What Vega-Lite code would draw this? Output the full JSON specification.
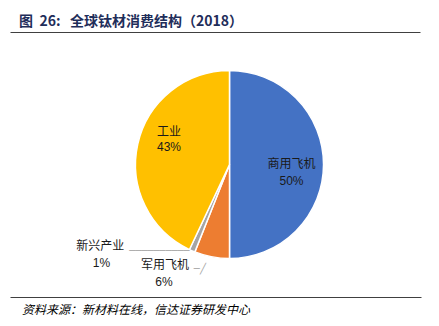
{
  "$schema": "https://vega.github.io/schema/vega-lite/v6.json",
  "padding": {"left": 9, "right": 0, "top": 14, "bottom": 0},
  "title": {
    "text": "\u200b\u00a0\u00a0\u00a0图\u00a0\u00a026:\u00a0\u00a0\u00a0全球钛材消费结构（2018）",
    "anchor": "start",
    "offset": 3,
    "font": "Noto Sans CJK SC",
    "fontSize": 14,
    "fontWeight": "bold",
    "color": "#1f2e5a"
  },
  "data": {
    "values": [
      {"name": "商用飞机", "pct": "50%", "value": 50, "idx": 1, "src": "\u200b\u3000资料来源：新材料在线，信达证券研发中心"},
      {"name": "军用飞机", "pct": "6%", "value": 6, "idx": 2, "src": "\u200b\u3000资料来源：新材料在线，信达证券研发中心"},
      {"name": "新兴产业", "pct": "1%", "value": 1, "idx": 3, "src": "\u200b\u3000资料来源：新材料在线，信达证券研发中心"},
      {"name": "工业", "pct": "43%", "value": 43, "idx": 4, "src": "\u200b\u3000资料来源：新材料在线，信达证券研发中心"}
    ]
  },
  "facet": {
    "column": {
      "field": "src",
      "type": "nominal",
      "header": {
        "title": null,
        "labelOrient": "bottom",
        "labelAnchor": "start",
        "labelAlign": "left",
        "labelPadding": 7,
        "labelFont": "Noto Sans CJK SC",
        "labelFontStyle": "italic",
        "labelFontSize": 12,
        "labelColor": "#000000"
      }
    }
  },
  "spec": {
    "width": 439,
    "height": 265,
    "view": {"stroke": "#404040", "strokeWidth": 1, "strokeDash": [410, 322, 411, 265]},
    "encoding": {
      "theta": {"field": "value", "type": "quantitative", "stack": true},
      "order": {"field": "idx", "type": "quantitative"}
    },
    "layer": [
      {
        "mark": {"type": "arc", "outerRadius": 94, "stroke": "#ffffff", "strokeWidth": 1.5},
        "encoding": {
          "color": {
            "field": "name",
            "type": "nominal",
            "scale": {"domain": ["商用飞机", "军用飞机", "新兴产业", "工业"], "range": ["#4472c4", "#ed7d31", "#a5a5a5", "#ffc000"]},
            "legend": null
          }
        }
      },
      {
        "mark": {"type": "text", "radius": 62, "dy": -1, "font": "Noto Sans CJK SC", "fontSize": 12, "color": "#1a1a1a"},
        "encoding": {"text": {"condition": {"test": "datum.name === '商用飞机'", "field": "name"}, "value": ""}}
      },
      {
        "mark": {"type": "text", "radius": 62, "dy": 16, "font": "Liberation Sans", "fontSize": 12, "color": "#1a1a1a"},
        "encoding": {"text": {"condition": {"test": "datum.name === '商用飞机'", "field": "pct"}, "value": ""}}
      },
      {
        "mark": {"type": "text", "radius": 62, "dy": -19, "font": "Noto Sans CJK SC", "fontSize": 12, "color": "#1a1a1a"},
        "encoding": {"text": {"condition": {"test": "datum.name === '工业'", "field": "name"}, "value": ""}}
      },
      {
        "mark": {"type": "text", "radius": 62, "dy": -4, "font": "Liberation Sans", "fontSize": 12, "color": "#1a1a1a"},
        "encoding": {"text": {"condition": {"test": "datum.name === '工业'", "field": "pct"}, "value": ""}}
      },
      {
        "mark": {"type": "text", "radius": 110, "dx": -44, "dy": -8, "font": "Noto Sans CJK SC", "fontSize": 12, "color": "#1a1a1a"},
        "encoding": {"text": {"condition": {"test": "datum.name === '军用飞机'", "field": "name"}, "value": ""}}
      },
      {
        "mark": {"type": "text", "radius": 110, "dx": -45, "dy": 9, "font": "Liberation Sans", "fontSize": 12, "color": "#1a1a1a"},
        "encoding": {"text": {"condition": {"test": "datum.name === '军用飞机'", "field": "pct"}, "value": ""}}
      },
      {
        "mark": {"type": "text", "radius": 96, "dx": -91, "dy": -7, "font": "Noto Sans CJK SC", "fontSize": 12, "color": "#1a1a1a"},
        "encoding": {"text": {"condition": {"test": "datum.name === '新兴产业'", "field": "name"}, "value": ""}}
      },
      {
        "mark": {"type": "text", "radius": 96, "dx": -90, "dy": 10, "font": "Liberation Sans", "fontSize": 12, "color": "#1a1a1a"},
        "encoding": {"text": {"condition": {"test": "datum.name === '新兴产业'", "field": "pct"}, "value": ""}}
      },
      {
        "mark": {"type": "text", "radius": 96, "dx": -32, "dy": -2, "font": "DejaVu Sans Mono", "fontSize": 10, "color": "#a6a6a6"},
        "encoding": {"text": {"condition": {"test": "datum.name === '新兴产业'", "value": "──────────"}, "value": ""}}
      },
      {
        "mark": {"type": "text", "radius": 110, "dx": -9, "dy": -4, "font": "DejaVu Sans Mono", "fontSize": 10, "color": "#a6a6a6"},
        "encoding": {"text": {"condition": {"test": "datum.name === '军用飞机'", "value": "─╱"}, "value": ""}}
      }
    ]
  }
}
